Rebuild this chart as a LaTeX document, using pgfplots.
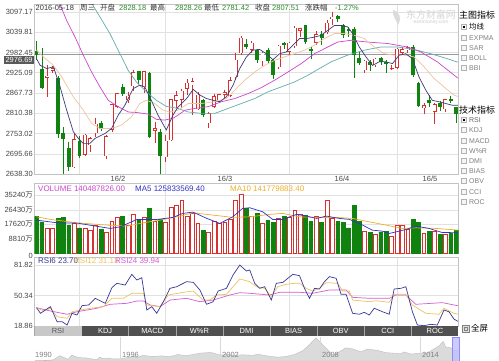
\documentclass[border=0pt]{standalone}
\usepackage{fontspec}
\setmainfont{Liberation Sans}
\newfontfamily\cjk{Noto Sans CJK SC}
\usepackage{pgfplots}
\usepackage{pgfplotstable}
\pgfplotsset{compat=1.18}
\definecolor{upred}{RGB}{214,48,48}
\definecolor{dngreen}{RGB}{16,130,16}
\definecolor{gridc}{RGB}{225,225,225}
\definecolor{framec}{RGB}{195,195,195}
\definecolor{labc}{RGB}{70,70,70}
\definecolor{ma5}{RGB}{60,60,120}
\definecolor{ma10}{RGB}{238,196,160}
\definecolor{ma20}{RGB}{205,70,205}
\definecolor{ma30}{RGB}{100,172,172}
\definecolor{vma5}{RGB}{50,50,200}
\definecolor{vma10}{RGB}{240,175,40}
\definecolor{rsi6}{RGB}{55,55,150}
\definecolor{rsi12}{RGB}{236,196,90}
\definecolor{rsi24}{RGB}{212,92,212}
\definecolor{hdgreen}{RGB}{40,140,40}
\definecolor{tabdark}{RGB}{80,80,80}
\definecolor{tablight}{RGB}{200,200,200}
\pgfplotsset{
  panel/.style={scale only axis, width=424bp, xmin=-0.37, xmax=78.44,
    axis line style={draw=framec, line width=0.6bp}, tick style={draw=none},
    xtick={8,24,47,67}, xticklabels={}, xmajorgrids, ymajorgrids,
    scaled y ticks=false, scaled x ticks=false,
    grid style={draw=gridc, line width=0.5bp},
    yticklabel style={font=\fontsize{7.5}{8}\selectfont, text=labc, inner sep=1.5bp},
    clip=true},
  ebar/.style n args={2}{only marks, mark=*, mark size=0pt, mark options={draw=none, fill=none},
    error bars/.cd, y dir=minus, y explicit, error mark=none,
    error bar style={draw=#1, line width=#2}},
}
% columns: index, low, body low, body high, high
\pgfplotstableread{
i l bl bh h
2 2857 2911 2916.56 2946
3 2925 2930 2938.51 2945
7 2656 2657 2737.60 2752
9 2690 2692 2749.57 2753
10 2701 2720 2739.25 2743
11 2743 2754 2781.02 2797
13 2682 2688 2746.20 2750
14 2758 2763 2836.57 2837
15 2824 2828 2867.34 2868
17 2838 2847 2860.02 2870
18 2874 2887 2927.18 2933
20 2868 2884 2928.90 2931
22 2725 2760 2767.21 2786
24 2672 2686 2733.17 2750
25 2733 2734 2849.68 2850
26 2825 2845 2862 2873
27 2825 2849 2874.15 2880
28 2861 2880 2897.34 2906
29 2806 2890 2901.39 2911
30 2819 2822 2862.56 2870
32 2770 2782 2810.31 2815
33 2824 2828 2859.50 2866
34 2838 2847 2864.37 2866
35 2853 2862 2870.43 2877
36 2855 2860 2904.83 2912
37 2905 2912 2962 2980
38 2975 2980 3024 3029
40 2980 2990 3009.96 3014
42 2945 2957 2982 2985
45 2935 2940 3002 3005
47 2975 2985 3010 3013
48 2995 3000 3053.07 3057
49 3027 3044 3050.59 3053
52 3005 3010 3033.96 3043
54 3035 3040 3066.64 3074
55 3060 3076 3084 3097.17
61 2923 2932 2959.24 2962
63 2940 2946 2964.70 2968
66 2932 2935 2938.32 2946
67 2937 2939 2992.64 2995
68 2975 2981 2991.27 2997
69 2980 2989 2997.84 3002
72 2807 2824 2832.59 2840
74 2781 2815 2835.86 2840
76 2815 2822 2850.86 2851
}\upT
\pgfplotstableread{
i l bl bh h
0 2961 2976.69 2988 3016
1 2878 2882 2937 2996
4 2741 2751 2910 2915
5 2638.30 2737 2755 2771
6 2647 2657 2712 2730
8 2685 2690 2733 2745
12 2761 2765 2782 2789
16 2860 2865 2884 2894
19 2894 2903.33 2929 2931
21 2740 2743 2923 2928
23 2638.96 2690 2757 2765
31 2800 2805 2847 2851
39 2993 2999.36 3006 3020
41 2954 2961 2989 2992
43 2954 2959 2989 2996
44 2907 2919.83 2960 2964
46 2993 3003.92 3008 3011
50 3007 3011 3059 3060
51 2965 2987 2993 2998
53 3004 3023.65 3036 3042
56 3070 3078.12 3085 3090
57 3024 3032 3059 3063
58 3025 3042 3050 3056
59 2909 2974 3050 3055
60 2946 2953.67 2968 2984
62 2930 2946.67 2955 2960
64 2946 2956 2968 2970
65 2925 2950 2956 2960
70 2913 2918 2997 3004
71 2828 2830 2896 2899
73 2828 2840 2847 2862
75 2818 2827.11 2838 2846
77 2838 2843.68 2850 2860
78 2781.42 2807.51 2828.18 2828.26
}\dnT
\begin{document}
\begin{tikzpicture}
\useasboundingbox (0bp,-361bp) rectangle (499bp,0bp);
\fill[white] (0bp,-361bp) rectangle (499bp,0bp);

% ---------------- main price panel
\begin{axis}[panel, at={(34.5bp,-174bp)}, anchor=south west, height=170bp,
  ymin=2638.30, ymax=3119.8,
  ytick={2638.30,2695.66,2753.02,2810.38,2867.73,2925.09,2982.45,3039.81,3097.17},
  yticklabels={2638.30,2695.66,2753.02,2810.38,2867.73,2925.09,2982.45,3039.81,3097.17}]
\addplot[black!40, line width=1.1bp] coordinates {(-1,2976.69) (80,2976.69)};
% wicks
\addplot[ebar={upred}{0.6bp}] table[x=i, y=h, y error minus expr={\thisrow{h}-\thisrow{l}}] {\upT};
\addplot[ebar={dngreen}{0.6bp}] table[x=i, y=h, y error minus expr={\thisrow{h}-\thisrow{l}}] {\dnT};
% bodies
\addplot[ebar={dngreen}{3.9bp}] table[x=i, y=bh, y error minus expr={\thisrow{bh}-\thisrow{bl}}] {\dnT};
\addplot[ebar={upred}{3.9bp}] table[x=i, y=bh, y error minus expr={\thisrow{bh}-\thisrow{bl}}] {\upT};
\addplot[ebar={white}{2.7bp}] table[x=i, y expr={\thisrow{bh}-1.7}, y error minus expr={max(\thisrow{bh}-\thisrow{bl}-3.4,0)}] {\upT};
% MA30
\addplot[ma30, line width=0.7bp] coordinates {(9.94,3130) (11.8,3083) (13.65,3036) (15.5,2979) (17.04,2932) (18.57,2899) (20.43,2871) (22.28,2847) (24.13,2830) (26.3,2824) (28.2,2814) (30.69,2810) (33.15,2810) (35.61,2824) (38.09,2838) (40.56,2852) (43.02,2871) (45.5,2885) (47.96,2899) (50.43,2918) (52.59,2937) (54.76,2956) (57.83,2975) (60.93,2989) (64.02,2998) (67.09,2998) (70.19,2991) (73.28,2979) (76.35,2965) (78.3,2955)};
% MA20
\addplot[ma20, line width=0.7bp] coordinates {(4.07,3130) (5.61,3073) (7.17,3026) (8.7,2975) (10.24,2927) (11.8,2885) (13.33,2847) (15.19,2829) (17.04,2814) (18.89,2812) (20.74,2808) (22.28,2793) (23.83,2791) (25.37,2796) (26.3,2805) (27.59,2819) (29.44,2824) (31.91,2829) (34.39,2843) (36.85,2852) (39.31,2866) (41.8,2883) (44.26,2904) (46.72,2927) (49.2,2951) (51.67,2979) (54.13,2998) (55.98,3012) (58.46,3017) (61.54,3012) (65.24,3008) (68.94,2998) (71.43,2984) (74.5,2956) (78.3,2910)};
% MA10
\addplot[ma10, line width=0.7bp] coordinates {(0,2989) (1.3,2970) (3.15,2946) (4.69,2913) (6.85,2857) (8.7,2819) (10.24,2782) (11.8,2767) (13.94,2767) (15.8,2777) (17.65,2800) (19.2,2838) (20.43,2847) (21.98,2838) (23.52,2819) (24.76,2814) (26.3,2819) (28.2,2838) (30.69,2838) (33.15,2843) (35.31,2852) (36.85,2876) (38.7,2904) (40.56,2927) (42.41,2946) (44.26,2960) (46.1,2970) (47.96,2979) (49.81,2989) (51.67,3003) (53.52,3022) (55.37,3036) (57.22,3036) (59.07,3031) (60.93,3022) (62.78,2998) (64.63,2979) (66.48,2975) (68.33,2975) (70.19,2970) (72.04,2942) (73.89,2909) (75.74,2885) (77.59,2862) (78.3,2858)};
% MA5
\addplot[ma5, line width=0.7bp] coordinates {(0,2965) (0.69,2946) (1.91,2937) (3.15,2942) (4.39,2885) (5.61,2819) (6.85,2758) (7.78,2739) (8.7,2725) (9.94,2725) (10.87,2739) (12.72,2753) (13.94,2767) (15.19,2805) (16.43,2833) (17.96,2880) (19.2,2890) (20.13,2885) (21.35,2847) (22.59,2805) (24.13,2763) (25.37,2805) (26.3,2828) (27.9,2852) (29.13,2878) (30.37,2862) (31.6,2852) (32.83,2847) (34.07,2843) (35.3,2857) (36.54,2890) (37.78,2937) (39.02,2970) (40.24,2989) (41.48,2991) (42.72,2979) (43.94,2962) (45.19,2979) (46.43,2984) (47.65,3003) (48.89,3022) (50.13,3022) (51.35,3025) (52.9,3031) (54.13,3045) (55.37,3059) (56.6,3059) (57.83,3055) (58.76,3036) (60,2998) (61.24,2970) (62.46,2946) (63.7,2956) (64.94,2956) (66.17,2951) (67.41,2975) (68.65,2979) (69.87,2965) (71.1,2913) (72.35,2876) (73.57,2847) (74.8,2843) (76.06,2838) (77.28,2833) (78.3,2833)};
\end{axis}

% ---------------- volume panel
\begin{axis}[panel, at={(34.5bp,-253.5bp)}, anchor=south west, height=70.5bp,
  ymin=0, ymax=42695,
  ytick={8810,17620,26430,35240},
  yticklabels={{8810{\cjk 万}},{17620{\cjk 万}},{26430{\cjk 万}},{35240{\cjk 万}}}]
\addplot[ybar, bar width=3.8bp, bar shift=0pt, draw=upred, fill=white, line width=0.6bp] coordinates {(2,15550) (3,15550) (7,18590) (9,15550) (10,14150) (11,17180) (13,13120) (14,19800) (15,21850) (17,17180) (18,23850) (20,21850) (22,19800) (24,19190) (25,27950) (26,29350) (27,31950) (28,22230) (29,24250) (30,18590) (32,13120) (33,19610) (34,18210) (35,19190) (36,20650) (37,32370) (38,36020) (40,22250) (42,18200) (45,21230) (47,21840) (48,26300) (49,23850) (52,22250) (54,31950) (55,21230) (61,13540) (63,11720) (66,10700) (67,17180) (68,16780) (69,14550) (72,12120) (74,13540) (76,11720)};
\addplot[ybar, bar width=3.8bp, bar shift=0pt, draw=dngreen, fill=dngreen, line width=0.6bp] coordinates {(0,22230) (1,19190) (4,21250) (5,21850) (6,17180) (8,15550) (12,14550) (16,22230) (19,20220) (21,27330) (23,20650) (31,14150) (39,27330) (41,24250) (43,20220) (44,18600) (46,22650) (50,23250) (51,19210) (53,18600) (56,19210) (57,18600) (58,15550) (59,28930) (60,19210) (62,12730) (64,13130) (65,13540) (70,20830) (71,18600) (73,13540) (75,11510) (77,12120) (78,14049)};
\addplot[vma10, line width=0.7bp] coordinates {(0,22230) (2.59,20650) (7.59,18580) (13.15,17190) (16.85,16580) (19.81,18580) (22.96,20220) (26.67,22650) (29.07,24660) (32.78,23260) (36.48,21860) (39.63,22230) (43.33,23690) (45.74,24290) (48.89,22230) (52.04,21860) (55.74,21860) (58.7,21250) (61.85,19190) (65,17190) (67.96,15180) (70.56,15550) (74.26,15180) (78.3,14178)};
\addplot[vma5, line width=0.7bp] coordinates {(0,20220) (3.89,18580) (7.59,18400) (11.85,16150) (13.7,15180) (15.56,16150) (18.7,20650) (22.4,20650) (25.37,21860) (27.2,24290) (29.07,25080) (31.67,21250) (34.07,18220) (36.48,22230) (38.33,27330) (39.63,27700) (42.04,25270) (43.89,20650) (45.74,20650) (48.33,23690) (50.19,22650) (52.04,21250) (53.89,22650) (56.3,21250) (58.15,20650) (60,18220) (62.41,14150) (64.26,13540) (65.56,12140) (66.85,13110) (68.7,14570) (70.56,16580) (72.96,15180) (75.37,12750) (78.3,12583)};
\end{axis}

% ---------------- RSI panel
\begin{axis}[panel, at={(34.5bp,-326bp)}, anchor=south west, height=69bp,
  ymin=18.86, ymax=90.19,
  ytick={18.86,50.34,81.82}, yticklabels={18.86,50.34,81.82}]
\addplot[rsi24, line width=0.7bp] coordinates {(0,37.8) (2.59,34.4) (5.69,31.0) (7.54,33.6) (11.24,37.2) (13.7,41.3) (16.8,42.3) (18.65,44.7) (19.87,44.7) (21.11,40.6) (22.96,38.8) (24.81,45.7) (27.9,47.5) (30.37,44.0) (32.83,45.7) (35.93,50.9) (37.78,53.3) (39.63,52.7) (43.33,50.9) (45.19,53.7) (48.89,53.7) (51.35,52.7) (54.44,56.1) (57.54,56.1) (58.76,48.5) (61.85,47.5) (65.56,47.5) (66.8,50.9) (68.65,50.9) (70.5,41.3) (75.43,43.0) (77.59,40.6) (78.3,39.94)};
\addplot[rsi12, line width=0.7bp] coordinates {(0,37.8) (1.35,34.4) (2.59,37.2) (3.83,28.5) (5.69,26.8) (6.61,33.6) (8.15,35.4) (10,37.2) (12.46,38.8) (14.02,47.5) (16.17,47.5) (17.72,52.7) (19.87,52.7) (20.5,40.6) (22.96,38.8) (24.5,50.9) (27.28,53.7) (29.13,55.0) (30.98,45.7) (32.22,45.7) (33.46,50.9) (35.31,51.6) (36.54,59.5) (37.78,67.5) (39.63,64.7) (40.87,59.5) (42.41,57.8) (43.65,49.2) (44.87,59.5) (46.43,62.0) (47.96,63.0) (48.89,63.0) (50.13,57.8) (51.35,55.0) (52.59,57.8) (53.83,63.7) (55.98,63.0) (56.91,55.0) (58.15,55.0) (58.76,45.7) (61.85,44.0) (63.09,45.0) (65.56,43.4) (66.48,51.6) (68.65,51.6) (69.87,40.6) (72.35,32.0) (74.81,31.0) (75.74,37.2) (77.59,32.0) (78.3,31.13)};
\addplot[rsi6, line width=0.7bp] coordinates {(0,37.8) (0.74,32.0) (1.67,35.4) (2.59,38.8) (3.83,23.3) (4.76,23.3) (5.69,19.9) (6.61,32.0) (7.54,30.2) (8.46,39.9) (9.69,40.6) (10.93,47.5) (12.78,42.3) (14.02,58.5) (14.94,63.0) (16.48,61.2) (17.72,72.3) (18.65,66.4) (19.57,68.8) (20.5,35.4) (21.43,38.8) (22.35,32.0) (23.57,44.0) (24.81,57.8) (26.06,59.5) (27.9,64.7) (29.13,64.0) (30.37,56.1) (31.61,41.3) (32.83,44.0) (33.76,55.0) (35.31,57.8) (36.54,71.6) (37.78,81.9) (39.02,75.7) (39.63,76.8) (40.56,63.0) (41.48,57.8) (42.41,59.5) (43.65,45.7) (44.57,63.0) (45.8,64.0) (46.72,68.2) (47.65,72.3) (48.89,70.9) (49.81,57.8) (50.74,47.5) (51.67,57.8) (52.59,57.1) (53.52,64.7) (54.44,69.9) (55.69,68.2) (56.61,51.6) (57.54,51.6) (58.76,32.0) (60,31.0) (60.93,33.0) (61.85,30.2) (62.78,37.2) (64.31,33.6) (65.56,31.0) (66.48,57.1) (67.72,57.8) (68.65,59.5) (69.87,33.6) (70.8,19.9) (72.04,19.2) (73.28,20.6) (74.5,19.9) (75.74,35.4) (76.67,33.6) (77.59,26.1) (78.3,23.7)};
\end{axis}

% ---------------- navigator
\begin{axis}[at={(34.5bp,-361bp)}, anchor=south west, scale only axis, width=424bp, height=23.5bp,
  xmin=1990.87, xmax=2016.37, ymin=0, ymax=6200, hide axis, clip=true]
\addplot[fill=black!14, draw=black!26, line width=0.4bp] coordinates {(1990.9,100) (1991.5,150) (1992.0,300) (1992.4,1400) (1992.9,400) (1993.1,1550) (1993.5,900) (1994.0,800) (1994.6,330) (1994.8,1000) (1995.0,600) (1995.4,800) (1995.5,600) (1996.0,550) (1996.9,1250) (1997.0,900) (1997.4,1450) (1998.0,1200) (1998.5,1350) (1999.0,1150) (1999.5,1700) (2000.0,1400) (2000.9,2100) (2001.5,2245) (2002.0,1600) (2002.5,1700) (2003.0,1400) (2003.3,1650) (2004.0,1500) (2004.3,1780) (2005.0,1250) (2005.5,998) (2006.0,1200) (2006.5,1700) (2007.0,2700) (2007.4,4300) (2007.8,6124) (2008.0,5200) (2008.4,3400) (2008.8,1664) (2009.0,1900) (2009.6,3478) (2010.0,3200) (2010.5,2400) (2010.9,3150) (2011.5,2800) (2012.0,2200) (2012.9,1950) (2013.1,2400) (2013.5,1850) (2014.0,2000) (2014.5,2100) (2014.9,3200) (2015.2,4000) (2015.45,5178) (2015.6,3700) (2015.9,3500) (2016.1,2700) (2016.4,2800)} \closedcycle;
\end{axis}

\begin{scope}[x=1bp,y=1bp]
\node[anchor=east, inner sep=0pt, text=labc, font=\fontsize{7.5}{8}\selectfont] at (33,-255.5) {0};
\foreach \xx in {120,220,320,420} {\draw[black!15, line width=0.5bp] (\xx,-337) -- (\xx,-361);}
\foreach \xx/\yy in {35/1990,122/1996,222/2002,322/2008,422/2014}
  {\node[anchor=west, inner sep=0pt, text=black!50, font=\fontsize{7.5}{8}\selectfont] at (\xx,-354.5) {\yy};}
\fill[blue!25!white, opacity=0.8] (452,-337) rectangle (459,-361);
\draw[blue!45!white, line width=0.6bp] (452,-337) rectangle (459,-361);

% ---------------- tabs
\foreach \k/\t in {0/RSI,1/KDJ,2/MACD,3/W\%R,4/DMI,5/BIAS,6/OBV,7/CCI,8/ROC} {
  \pgfmathsetmacro\xa{34.5+\k*47.11}
  \fill[tabdark] (\xa,-326) rectangle ++(47.11,-10);
  \draw[black!35, line width=0.5bp] (\xa,-326) -- ++(0,-10);
  \node[text=white, font=\fontsize{7.5}{8}\selectfont, inner sep=0pt] at (\xa+23.55,-331.2) {\t};
}
\fill[tablight] (34.5,-326) rectangle ++(47.11,-10);
\node[text=black!65, font=\fontsize{7.5}{8}\selectfont, inner sep=0pt] at (58.05,-331.2) {RSI};
\draw[black!50, fill=black!12, line width=0.5bp] (462.5,-325) rectangle ++(7,-7);
\draw[black!50, line width=0.5bp] (464.5,-327) rectangle ++(3,-3);
\node[anchor=west, inner sep=0pt, font=\cjk\fontsize{8.5}{9}\selectfont] at (471,-328.5) {全屏};

% ---------------- headers
\begin{scope}[every node/.style={anchor=west, inner sep=0pt, font=\fontsize{7.5}{8}\selectfont}]
\node[text=black!80] at (35.5,-7.5) {2016-05-18};
\node[text=black!80, font=\cjk\fontsize{7.5}{8}\selectfont] at (80,-7.5) {周三};
\node[text=black!80, font=\cjk\fontsize{7.5}{8}\selectfont] at (100,-7.5) {开盘};
\node[text=hdgreen] at (119,-7.5) {2828.18};
\node[text=black!80, font=\cjk\fontsize{7.5}{8}\selectfont] at (150,-7.5) {最高};
\node[text=hdgreen] at (175,-7.5) {2828.26};
\node[text=black!80, font=\cjk\fontsize{7.5}{8}\selectfont] at (204,-7.5) {最低};
\node[text=hdgreen] at (222,-7.5) {2781.42};
\node[text=black!80, font=\cjk\fontsize{7.5}{8}\selectfont] at (255,-7.5) {收盘};
\node[text=hdgreen] at (272,-7.5) {2807.51};
\node[text=black!80, font=\cjk\fontsize{7.5}{8}\selectfont] at (305,-7.5) {涨跌幅};
\node[text=hdgreen] at (335,-7.5) {-1.27\%};
\node[text=ma20, font=\fontsize{8}{9}\selectfont] at (38,-189) {VOLUME 140487826.00};
\node[text=vma5, font=\fontsize{8}{9}\selectfont] at (135,-189) {MA5 125833569.40};
\node[text=vma10, font=\fontsize{8}{9}\selectfont] at (230,-189) {MA10 141779883.40};
\node[text=rsi6, font=\fontsize{8}{9}\selectfont] at (38,-260.5) {RSI6 23.70};
\node[text=rsi12, font=\fontsize{8}{9}\selectfont] at (74,-260.5) {RSI12 31.13};
\node[text=rsi24, font=\fontsize{8}{9}\selectfont] at (115,-260.5) {RSI24 39.94};
\end{scope}
% crosshair price box
\node[fill=black!65, text=white, inner sep=1.2bp, anchor=east, font=\fontsize{7.5}{8}\selectfont] at (34,-60) {2976.69};
% month labels
\foreach \xx/\t in {118/16\slash 2,225/16\slash 3,342/16\slash 4,430/16\slash 5}
  {\node[text=labc, font=\fontsize{7.5}{8}\selectfont, inner sep=0pt] at (\xx,-178.5) {\t};}
% watermark
\node[text=black!16, font=\cjk\fontsize{10}{10}\selectfont, inner sep=0pt] at (431,-15) {东方财富网};
\node[text=black!20, font=\fontsize{5}{5}\selectfont, inner sep=0pt] at (431,-22.5) {eastmoney.com};
\fill[black!14] (393,-10) .. controls (400,-12) and (402,-18) .. (398,-25) .. controls (396,-19) and (392,-16) .. (393,-10);

% ---------------- side panel
\node[anchor=west, inner sep=0pt, font=\cjk\fontsize{9}{9}\selectfont] at (459,-15.5) {主图指标};
\node[anchor=west, inner sep=0pt, font=\cjk\fontsize{9}{9}\selectfont] at (459,-110) {技术指标};
\foreach \yy/\t in {27/{},38/EXPMA,48/SAR,58/BOLL,68/BBI,120/{},130/KDJ,141/MACD,151/W\%R,161/DMI,171/BIAS,181/OBV,192/CCI,202/ROC} {
  \draw[black!30, fill=black!4, line width=0.5bp] (461.5,-\yy+2.3) rectangle ++(4.6,-4.6);
  \node[anchor=west, inner sep=0pt, text=black!50, font=\fontsize{7}{8}\selectfont] at (469,-\yy) {\t};
}
\fill[black] (462.6,-27+1.2) rectangle ++(2.4,-2.4);
\fill[black] (462.6,-120+1.2) rectangle ++(2.4,-2.4);
\node[anchor=west, inner sep=0pt, font=\cjk\fontsize{7.5}{8}\selectfont] at (469,-27) {均线};
\node[anchor=west, inner sep=0pt, text=black!60, font=\fontsize{7}{8}\selectfont] at (469,-120) {RSI};
\end{scope}
\end{tikzpicture}
\end{document}
